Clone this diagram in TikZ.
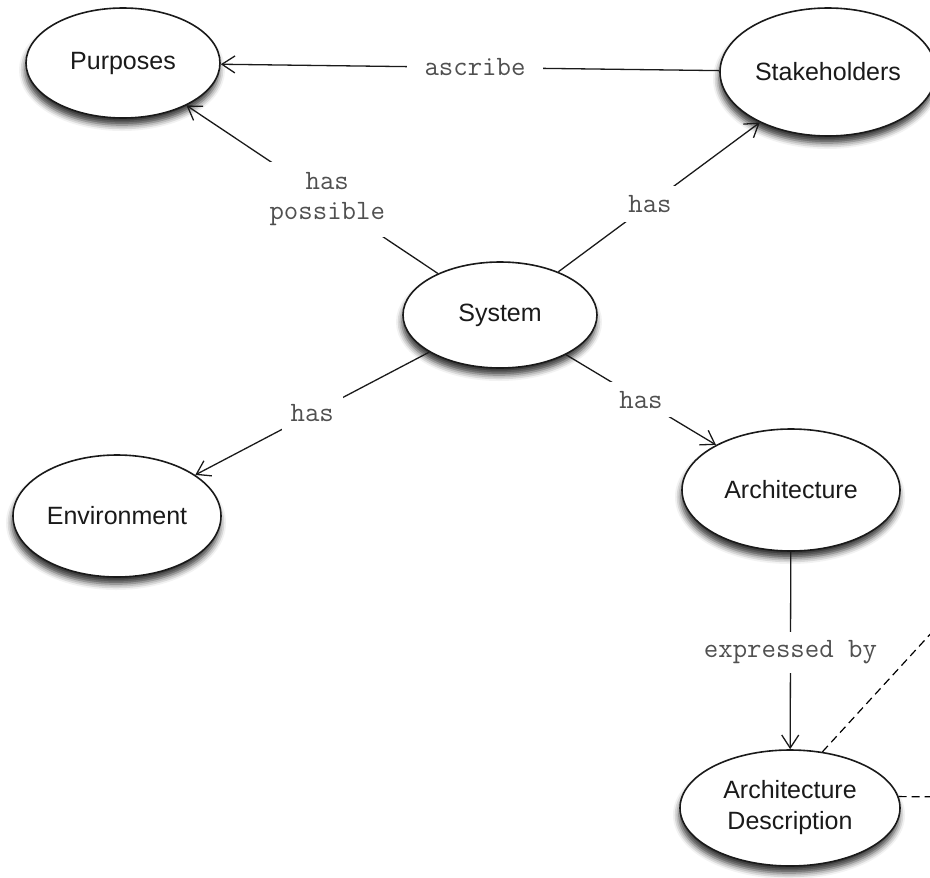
\documentclass[tikz,border=0pt]{standalone}
\usepackage{fontspec}
\setmainfont{Liberation Sans}
\usetikzlibrary{shapes.geometric,arrows.meta,shadows.blur}
\definecolor{ink}{HTML}{1A1A1A}
\definecolor{lblgray}{HTML}{505050}
\begin{document}
\begin{tikzpicture}[x=1pt,y=-1pt,
  concept/.style={ellipse, draw=ink, line width=1.6pt, fill=white, inner sep=0pt,
    text=ink, font=\fontsize{25}{31}\selectfont, align=center,
    blur shadow={shadow xshift=-1pt, shadow yshift=-7pt, shadow blur radius=6pt, shadow opacity=80}},
  rel/.style={draw=ink, line width=1.3pt, -{Straight Barb[length=13pt,width=17pt,line width=1.3pt]}},
  lbl/.style={fill=white, inner sep=9pt, text=lblgray, font=\ttfamily\fontsize{28}{30}\selectfont, align=center},
  link/.style={draw=black, line width=1.2pt, dash pattern=on 8pt off 5pt}
]
\useasboundingbox (0,0) rectangle (930,878);
\clip (0,0) rectangle (930,878);

% concepts
\node[concept, minimum width=194pt, minimum height=110pt] (purp)  at (123,63)  {Purposes};
\node[concept, minimum width=216pt, minimum height=128pt] (stake) at (828,72)  {Stakeholders};
\node[concept, minimum width=194pt, minimum height=106pt] (sys)   at (500,315) {System};
\node[concept, minimum width=208pt, minimum height=122pt] (env)   at (117,516) {Environment};
\node[concept, minimum width=218pt, minimum height=122pt] (arch)  at (791,490) {Architecture};
\node[concept, minimum width=220pt, minimum height=116pt] (ad)    at (790,808) {Architecture\\Description};

% loose ends running off the right side
\coordinate (offA) at (1000,558);
\coordinate (offB) at (980,797);

% relations
\draw[rel] (stake) -- node[lbl, inner xsep=18pt, pos=0.49] {ascribe} (purp);
\draw[rel] (sys) -- node[lbl, inner sep=11pt, pos=0.44] {has\\possible} (purp);
\draw[rel] (sys) -- node[lbl, pos=0.455] {has} (stake);
\draw[rel] (sys) -- node[lbl, pos=0.5] {has} (env);
\draw[rel] (sys) -- node[lbl, pos=0.5] {has} (arch);
\draw[rel] (arch) -- node[lbl, pos=0.51] {expressed by} (ad);

% dashed links
\draw[link] (ad.60) -- (offA);
\draw[link] (ad.6) -- (offB);
\end{tikzpicture}
\end{document}
